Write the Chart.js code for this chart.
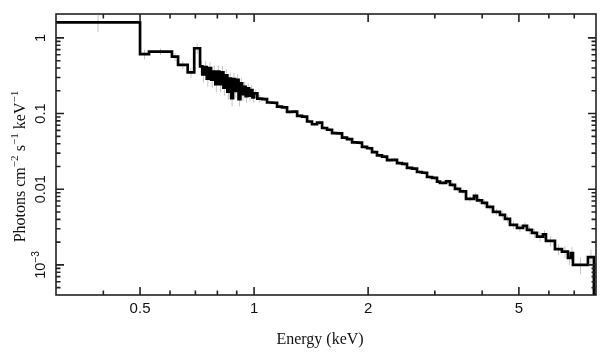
<!DOCTYPE html>
<html><head><meta charset="utf-8">
<style>html,body{margin:0;padding:0;background:#fff;}canvas{display:block;}</style>
<script src="https://cdn.jsdelivr.net/npm/chart.js@4.4.1/dist/chart.umd.min.js"></script>
</head><body>
<canvas id="c" width="609" height="357"></canvas>
<script>
// ---- data ----
// bin left edges (keV); last value is the right edge of the last bin
const binEdges = [
  0.30, 0.50, 0.528, 0.607, 0.630, 0.668, 0.695,
  0.72, 0.73, 0.74, 0.75, 0.76, 0.77, 0.78, 0.79, 0.80, 0.81, 0.82, 0.83, 0.84, 0.85,
  0.86, 0.87, 0.88, 0.89, 0.90, 0.91, 0.92, 0.93, 0.94, 0.95, 0.96, 0.97, 0.98, 0.99, 1.00, 1.02,
  1.050, 1.082, 1.116, 1.150, 1.185, 1.222, 1.260, 1.299, 1.339, 1.380, 1.422, 1.466,
  1.512, 1.558, 1.606, 1.656, 1.707, 1.759, 1.814, 1.870, 1.927, 1.987, 2.048, 2.111,
  2.176, 2.244, 2.313, 2.384, 2.458, 2.533, 2.612, 2.692, 2.775, 2.861, 2.949, 3.040,
  3.096, 3.211, 3.290, 3.391, 3.496, 3.626, 3.806, 3.876, 3.996, 4.119, 4.272, 4.458,
  4.595, 4.737, 4.942, 5.126, 5.252, 5.414, 5.580, 5.788, 5.895, 6.226, 6.496, 6.737,
  6.862, 6.946, 7.608, 7.890, 7.99
];
// photons cm^-2 s^-1 keV^-1 per bin
const flux = [
  1.6, 0.61, 0.66, 0.565, 0.44, 0.35, 0.73,
  0.42, 0.33, 0.41, 0.29, 0.40, 0.28, 0.36, 0.245, 0.36, 0.245, 0.35, 0.22, 0.32, 0.195,
  0.29, 0.16, 0.285, 0.20, 0.28, 0.155, 0.25, 0.18, 0.225, 0.17, 0.215, 0.172, 0.205, 0.164, 0.185, 0.158,
  0.1550, 0.1401, 0.1389, 0.1238, 0.1208, 0.1056, 0.1063, 0.0932, 0.0910, 0.0786, 0.0722, 0.0758,
  0.0645, 0.0611, 0.0553, 0.0547, 0.0480, 0.0460, 0.0416, 0.0413, 0.0362, 0.0348, 0.0310, 0.0280,
  0.0269, 0.0243, 0.0245, 0.0221, 0.0216, 0.0192, 0.0187, 0.0169, 0.0165, 0.0145, 0.0141, 0.0126,
  0.01215, 0.01272, 0.01143, 0.01012, 0.00938, 0.00747, 0.00818, 0.00714, 0.00661, 0.00585, 0.00503, 0.00459,
  0.00406, 0.00339, 0.00309, 0.00328, 0.00291, 0.00265, 0.00237, 0.00254, 0.00208, 0.00162, 0.00150, 0.00124,
  0.00143, 0.00100, 0.00127, 0.00035
];
// relative half-length of the grey error bars per bin
const errFrac = [
  0.25, 0.15, 0.10, 0.12, 0.12, 0.15, 0.15,
  0.20, 0.22, 0.20, 0.22, 0.20, 0.22, 0.20, 0.22, 0.20, 0.22, 0.20, 0.22, 0.20, 0.22,
  0.20, 0.22, 0.20, 0.20, 0.18, 0.20, 0.18, 0.18, 0.16, 0.18, 0.16, 0.16, 0.15, 0.15, 0.12, 0.12,
  0.06, 0.06, 0.06, 0.06, 0.06, 0.06, 0.06, 0.06, 0.06, 0.06, 0.06, 0.06,
  0.06, 0.06, 0.06, 0.06, 0.06, 0.06, 0.06, 0.06, 0.06, 0.06, 0.06, 0.06,
  0.06, 0.06, 0.06, 0.06, 0.06, 0.06, 0.06, 0.06, 0.06, 0.06, 0.06, 0.06,
  0.07, 0.07, 0.08, 0.08, 0.08, 0.09, 0.09, 0.09, 0.10, 0.10, 0.10, 0.11,
  0.11, 0.12, 0.12, 0.12, 0.13, 0.13, 0.14, 0.14, 0.15, 0.17, 0.18, 0.20,
  0.20, 0.25, 0.25, 0.40
];
const xRange = [0.3, 7.99];
const yRange = [4e-4, 2.07];
const xMajorTicks = [0.5, 1, 2, 5];
const xTickLabels = ['0.5', '1', '2', '5'];
const xMinorTicks = [0.4, 0.6, 0.7, 0.8, 0.9, 3, 4, 6, 7];
const yMajorTicks = [1e-3, 1e-2, 0.1, 1];
const yTickLabels = ['10^{\u22123}', '0.01', '0.1', '1'];
const yMinorTicks = [5e-4, 6e-4, 7e-4, 8e-4, 9e-4,
  0.002, 0.003, 0.004, 0.005, 0.006, 0.007, 0.008, 0.009,
  0.02, 0.03, 0.04, 0.05, 0.06, 0.07, 0.08, 0.09,
  0.2, 0.3, 0.4, 0.5, 0.6, 0.7, 0.8, 0.9];
const xTitle = 'Energy (keV)';
const yTitle = 'Photons cm^{\u22122} s^{\u22121} keV^{\u22121}';

// ---- build datasets ----
const stepPts = binEdges.map((e, i) => ({x: e, y: flux[Math.min(i, flux.length - 1)]}));
const errPts = [];
flux.forEach((f, i) => {
  const c = Math.sqrt(binEdges[i] * binEdges[i + 1]);
  errPts.push({x: c, y: f * (1 - errFrac[i])}, {x: c, y: f * (1 + errFrac[i])}, {x: c, y: null});
});

const SANS = '"Liberation Sans", Arial, sans-serif';
const SERIF = '"Liberation Serif", "Times New Roman", serif';

function parseRich(s) {
  const parts = []; const re = /\^\{([^}]*)\}/g; let last = 0, m;
  while ((m = re.exec(s))) {
    if (m.index > last) parts.push([s.slice(last, m.index), false]);
    parts.push([m[1], true]); last = re.lastIndex;
  }
  if (last < s.length) parts.push([s.slice(last), false]);
  return parts;
}
function drawRich(ctx, s, cx, baseY, size, family, supScale) {
  const parts = parseRich(s); const sup = size * supScale;
  ctx.textAlign = 'left'; ctx.textBaseline = 'alphabetic';
  let w = 0;
  parts.forEach(([t, p]) => { ctx.font = (p ? sup : size) + 'px ' + family; w += ctx.measureText(t).width; });
  let x = cx - w / 2;
  parts.forEach(([t, p]) => {
    ctx.font = (p ? sup : size) + 'px ' + family;
    ctx.fillText(t, x, p ? baseY - size * 0.42 : baseY);
    x += ctx.measureText(t).width;
  });
}

const framePlugin = {
  id: 'frame',
  afterDraw(chart) {
    const {ctx, chartArea: {left, right, top, bottom}, scales: {x, y}} = chart;
    ctx.save();
    ctx.strokeStyle = '#222'; ctx.lineWidth = 1.6;
    ctx.strokeRect(left, top, right - left, bottom - top);
    ctx.beginPath();
    const xt = (v, len) => { const p = x.getPixelForValue(v); ctx.moveTo(p, bottom); ctx.lineTo(p, bottom - len); ctx.moveTo(p, top); ctx.lineTo(p, top + len); };
    const yt = (v, len) => { const p = y.getPixelForValue(v); if (p < top + 2 || p > bottom - 2) return; ctx.moveTo(left, p); ctx.lineTo(left + len, p); ctx.moveTo(right, p); ctx.lineTo(right - len, p); };
    xMajorTicks.forEach(v => xt(v, 8)); xMinorTicks.forEach(v => xt(v, 4.5));
    yMajorTicks.forEach(v => yt(v, 8)); yMinorTicks.forEach(v => yt(v, 4.5));
    ctx.stroke();
    ctx.fillStyle = '#111';
    // x tick labels
    ctx.font = '15px ' + SANS; ctx.textAlign = 'center'; ctx.textBaseline = 'alphabetic';
    xMajorTicks.forEach((v, i) => ctx.fillText(xTickLabels[i], x.getPixelForValue(v), 313));
    // y tick labels (rotated)
    yMajorTicks.forEach((v, i) => {
      ctx.save(); ctx.translate(45, y.getPixelForValue(v)); ctx.rotate(-Math.PI / 2);
      drawRich(ctx, yTickLabels[i], 0, 0, 14.5, SANS, 0.7); ctx.restore();
    });
    // axis titles
    ctx.font = '16px ' + SERIF; ctx.textAlign = 'center';
    ctx.fillText(xTitle, 320, 344);
    ctx.save(); ctx.translate(25, 166.5); ctx.rotate(-Math.PI / 2);
    drawRich(ctx, yTitle, 0, 0, 16, SERIF, 0.7); ctx.restore();
    ctx.restore();
  }
};

new Chart(document.getElementById('c').getContext('2d'), {
  type: 'line',
  data: {datasets: [
    {data: stepPts, stepped: 'before', borderColor: '#000', borderWidth: 2.7, pointRadius: 0,
     fill: false, borderJoinStyle: 'miter', order: 0},
    {data: errPts, borderColor: '#c4c4c4', borderWidth: 1, pointRadius: 0, spanGaps: false,
     fill: false, order: 1}
  ]},
  options: {
    responsive: false, animation: false, devicePixelRatio: 1,
    layout: {padding: {top: 14, right: 13, left: 0, bottom: 0}},
    plugins: {legend: {display: false}, tooltip: {enabled: false}},
    scales: {
      x: {type: 'logarithmic', min: xRange[0], max: xRange[1],
          ticks: {display: false}, grid: {display: false}, border: {display: false},
          afterFit(s) { s.height = 62; }},
      y: {type: 'logarithmic', min: yRange[0], max: yRange[1],
          ticks: {display: false}, grid: {display: false}, border: {display: false},
          afterFit(s) { s.width = 56; }}
    }
  },
  plugins: [framePlugin]
});
</script>
</body></html>
